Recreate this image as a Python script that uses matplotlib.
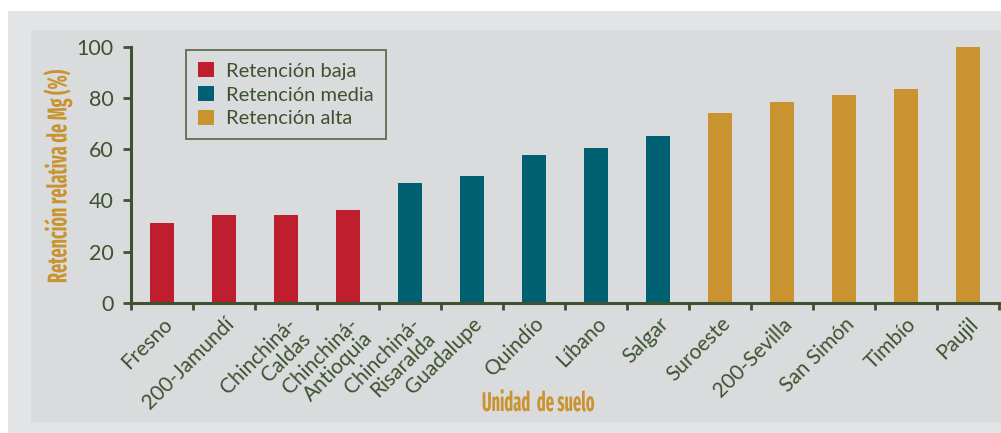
import matplotlib
matplotlib.use("Agg")
import matplotlib.pyplot as plt
from matplotlib.patches import Rectangle, Patch
from matplotlib.patheffects import AbstractPathEffect
from matplotlib.transforms import Affine2D, ScaledTranslation

# Data
categorias = ["Fresno", "200-Jamundí", "Chinchiná-\nCaldas", "Chinchiná-\nAntioquia",
              "Chinchiná-\nRisaralda", "Guadalupe", "Quindío", "Líbano", "Salgar",
              "Suroeste", "200-Sevilla", "San Simón", "Timbío", "Paujil"]
retencion = [31.3, 34.3, 34.3, 36.2, 46.8, 49.5, 57.7, 60.4, 65.1,
             74.1, 78.4, 81.1, 83.5, 100.0]
grupo = ["baja"] * 4 + ["media"] * 5 + ["alta"] * 5
leyenda = {"baja": "Retención baja", "media": "Retención media", "alta": "Retención alta"}
yticks = [0, 20, 40, 60, 80, 100]

colores = {"baja": "#be1e2d", "media": "#005f71", "alta": "#c9932f"}
verde = "#3e5230"
dorado = "#c9932f"
fondo_ext = "#e3e4e6"
fondo_int = "#dadbdd"

plt.rcParams["font.family"] = ["Lato", "DejaVu Sans"]
cond = ["Fira Sans Extra Condensed", "Roboto Condensed", "DejaVu Sans"]


class Squeeze(AbstractPathEffect):
    """Rescale glyphs: sx along the writing direction, sy across it."""

    def __init__(self, sx, sy=1.0):
        super().__init__()
        self.sx = sx
        self.sy = sy

    def draw_path(self, renderer, gc, tpath, affine, rgbFace=None):
        renderer.draw_path(gc, tpath, Affine2D().scale(self.sx, self.sy) + affine, rgbFace)


W, H = 1001, 433
fig = plt.figure(figsize=(W / 100, H / 100), dpi=100, facecolor="white")

# Background panels
fig.patches.append(Rectangle((8 / W, 0), 1 - 8 / W, (H - 11) / H,
                             transform=fig.transFigure, facecolor=fondo_ext,
                             edgecolor="none", zorder=-2))
fig.patches.append(Rectangle((31 / W, (H - 421.7) / H), 1 - 31 / W, (421.7 - 30) / H,
                             transform=fig.transFigure, facecolor=fondo_int,
                             edgecolor="none", zorder=-1))

ax = fig.add_axes([131 / W, (H - 302.7) / H, (999 - 131) / W, (302.7 - 46.7) / H])
ax.set_facecolor("none")

x = list(range(len(categorias)))
ax.bar(x, retencion, width=0.4, color=[colores[g] for g in grupo], zorder=2)

ax.set_xlim(-0.5, len(categorias) - 0.5)
ax.set_ylim(0, 100)
ax.set_yticks(yticks)
ax.set_yticklabels([str(v) for v in yticks], fontsize=15.5, color=verde)

ax.set_xticks([i + 0.5 for i in range(-1, len(categorias))])
ax.set_xticklabels([])
ax.set_xticks(x, minor=True)
ax.set_xticklabels(categorias, minor=True, rotation=45, ha="right",
                   rotation_mode="anchor", fontsize=15, color=verde, linespacing=1.05)
shift = ScaledTranslation(-5 / 100, -3 / 100, fig.dpi_scale_trans)
for lab in ax.get_xticklabels(minor=True):
    lab.set_transform(lab.get_transform() + shift)
ax.tick_params(axis="x", which="minor", length=0, pad=8)
ax.tick_params(axis="x", which="major", direction="out", length=5, width=2, color=verde)
ax.tick_params(axis="y", direction="out", length=6, width=2, color=verde, pad=6.5)

for s in ["top", "right"]:
    ax.spines[s].set_visible(False)
for s in ["left", "bottom"]:
    ax.spines[s].set_color(verde)
    ax.spines[s].set_linewidth(2.2)

# Axis titles in condensed lettering
alto = 1.22
ylab = fig.text(59.5 / W, (H - 283) / H, "Retención relativa de Mg (%)", family=cond,
                fontweight="bold", fontsize=16, color=dorado, rotation=90,
                ha="center", va="bottom")
xlab = fig.text(482 / W, (H - 411) / H, "Unidad  de suelo", family=cond,
                fontweight="bold", fontsize=16, color=dorado, ha="left",
                va="baseline")

renderer = fig.canvas.get_renderer()
ylen = ylab.get_window_extent(renderer).height
xlen = xlab.get_window_extent(renderer).width
ylab.set_path_effects([Squeeze(214 / ylen, alto)])
xlab.set_path_effects([Squeeze(113 / xlen, alto)])

handles = [Patch(facecolor=colores[k], edgecolor="none", label=leyenda[k])
           for k in ["baja", "media", "alta"]]
leg = ax.legend(handles=handles, loc="upper left",
                bbox_to_anchor=((186 - 131) / 868, (302.7 - 50) / 256),
                prop={"size": 14.5}, borderaxespad=0,
                frameon=True, fancybox=False, handlelength=0.8, handleheight=0.8,
                handletextpad=0.6, borderpad=0.6, labelspacing=0.3)
leg.get_frame().set_edgecolor(verde)
leg.get_frame().set_linewidth(1.3)
leg.get_frame().set_facecolor(fondo_int)
for t in leg.get_texts():
    t.set_color(verde)

fig.savefig("out.png", dpi=100, facecolor="white")
